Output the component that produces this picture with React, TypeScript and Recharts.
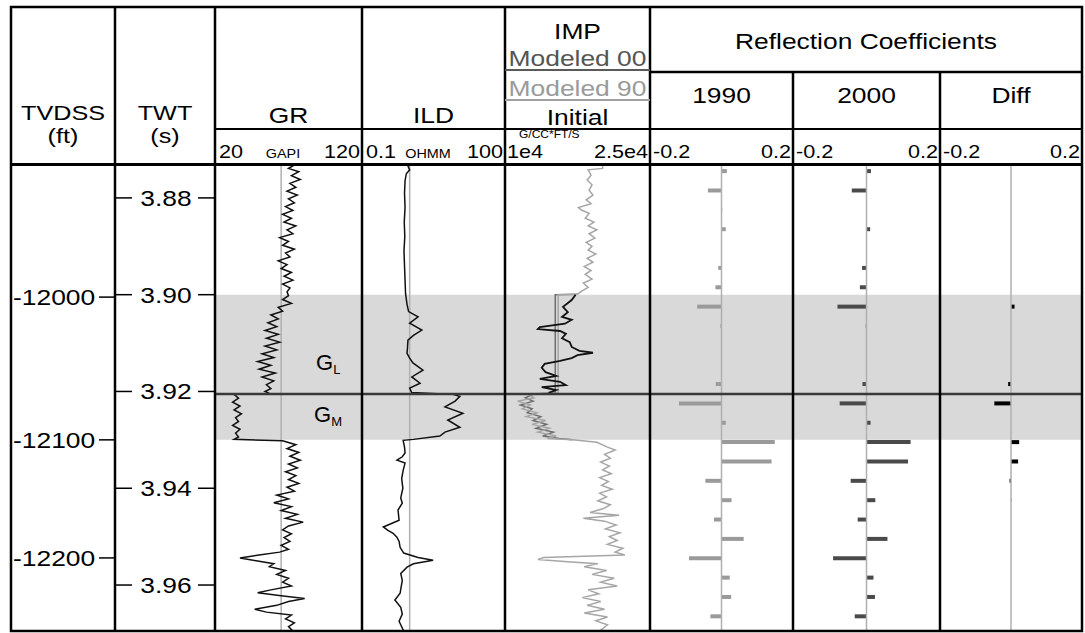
import {
  Bar,
  BarChart,
  Line,
  LineChart,
  ReferenceArea,
  ReferenceLine,
  XAxis,
  YAxis,
} from 'recharts'

// two-way time in ms; the log window and the zone picks
const TWT_DOMAIN: [number, number] = [3873.2, 3969.5]
const ZONE_TOP = 3900
const ZONE_BASE = 3930
const CONTACT = 3920.5

const TWT_TICKS = [3880, 3900, 3920, 3940, 3960]
const DEPTH_TICK_TWT = [3900.5, 3930.0, 3954.4]
const DEPTH_LABELS = ['-12000', '-12100', '-12200']

// [twt ms, GAPI]
const GR: [number, number][] = [
  [3873.2, 74], [3873.9, 70], [3874.6, 77], [3875.4, 72], [3876.2, 78], [3877.0, 71], [3877.8, 75],
  [3878.6, 69], [3879.4, 76], [3880.2, 70], [3881.0, 74], [3881.8, 68], [3882.6, 73], [3883.4, 66],
  [3884.2, 72], [3885.0, 67], [3885.8, 75], [3886.6, 69], [3887.4, 73], [3888.2, 64], [3889.0, 70],
  [3889.8, 66], [3890.6, 74], [3891.4, 68], [3892.2, 71], [3893.0, 63], [3893.8, 69], [3894.6, 65],
  [3895.4, 72], [3896.2, 67], [3897.0, 73], [3897.8, 66], [3898.6, 71], [3899.4, 69],
  [3900.2, 70], [3901.0, 66], [3901.8, 72], [3902.6, 63], [3903.4, 66], [3904.2, 58], [3905.0, 63],
  [3905.8, 56], [3906.6, 62], [3907.4, 54], [3908.2, 63], [3909.0, 55], [3909.8, 64], [3910.6, 54],
  [3911.4, 62], [3912.2, 52], [3913.0, 60], [3913.8, 49], [3914.6, 58], [3915.4, 50], [3916.2, 61],
  [3917.0, 52], [3917.8, 60], [3918.6, 55], [3919.4, 58], [3920.0, 54], [3920.4, 57],
  [3920.6, 33], [3921.4, 36], [3922.2, 32], [3923.0, 37], [3923.8, 33], [3924.6, 38], [3925.4, 34],
  [3926.2, 36], [3927.0, 32], [3927.8, 37], [3928.6, 34], [3929.4, 36], [3929.9, 33],
  [3930.2, 66], [3931.0, 75], [3931.8, 69], [3932.6, 77], [3933.4, 71], [3934.2, 78], [3935.0, 70],
  [3935.8, 76], [3936.6, 68], [3937.4, 75], [3938.2, 70], [3939.0, 77], [3939.8, 69], [3940.6, 74],
  [3941.4, 62], [3942.2, 70], [3943.0, 60], [3943.8, 72], [3944.6, 65], [3945.4, 76], [3946.2, 68],
  [3947.0, 80], [3947.8, 70], [3948.6, 66], [3949.4, 72], [3950.2, 67], [3951.0, 71], [3951.8, 65],
  [3952.6, 70], [3953.2, 64], [3953.8, 50], [3954.4, 37], [3955.0, 48], [3955.6, 60], [3956.2, 57],
  [3957.0, 68], [3957.8, 62], [3958.6, 70], [3959.4, 66], [3960.2, 72], [3961.0, 58], [3961.6, 49],
  [3962.2, 65], [3962.8, 81], [3963.4, 70], [3964.2, 62], [3965.0, 47], [3965.6, 55], [3966.2, 72],
  [3967.0, 68], [3967.8, 74], [3968.6, 70], [3969.5, 73],
]

// [twt ms, ohmm]
const ILD: [number, number][] = [
  [3873.2, 0.9], [3874.2, 1.0], [3875.0, 0.85], [3876.5, 0.8], [3879.0, 0.78], [3882.0, 0.8],
  [3885.0, 0.77], [3888.0, 0.79], [3891.0, 0.76], [3894.0, 0.78], [3897.0, 0.8], [3899.8, 0.82],
  [3902.0, 0.88], [3903.5, 0.95], [3904.6, 1.5], [3905.9, 1.0], [3907.3, 1.8], [3908.4, 1.2],
  [3909.4, 0.92], [3911.0, 0.9], [3912.1, 0.88], [3913.1, 1.0], [3914.1, 1.17], [3915.6, 1.9],
  [3917.0, 1.11], [3918.3, 1.65], [3919.3, 1.0], [3920.2, 1.1], [3920.6, 8], [3921.0, 11.3],
  [3922.0, 9], [3923.2, 5.5], [3924.5, 13.1], [3925.9, 6.3], [3927.4, 11.3], [3928.4, 5.5],
  [3929.2, 4.3], [3929.9, 1.2], [3930.1, 0.73], [3931.5, 0.78], [3932.7, 0.8], [3933.5, 0.7],
  [3934.2, 0.54], [3934.8, 0.8], [3936.3, 0.73], [3938.0, 0.68], [3940.0, 0.72], [3942.0, 0.65],
  [3943.1, 0.7], [3944.5, 0.57], [3946.6, 0.6], [3948.0, 0.28], [3948.7, 0.35], [3949.3, 0.45],
  [3950.1, 0.54], [3951.0, 0.6], [3952.2, 0.63], [3953.4, 0.75], [3954.3, 1.5], [3954.9, 3.1],
  [3955.6, 1.2], [3956.3, 0.88], [3957.6, 0.65], [3959.0, 0.7], [3961.7, 0.63], [3963.1, 0.49],
  [3964.6, 0.65], [3966.0, 0.7], [3967.5, 0.6], [3969.5, 0.75],
]

// impedance, g/cc*ft/s
const IMP_MOD90: [number, number][] = [
  [3873.2, 20100], [3873.9, 20100], [3874.2, 18600], [3875.3, 18900], [3876.3, 18500], [3877.3, 19000],
  [3878.4, 18700], [3879.4, 19100], [3880.4, 18400], [3881.2, 18900], [3882.0, 17600], [3882.5, 17900],
  [3883.2, 18700], [3884.2, 18300], [3885.0, 19200], [3885.8, 18600], [3886.6, 19500], [3887.4, 18700],
  [3888.3, 19300], [3889.2, 18400], [3890.0, 19000], [3890.8, 18600], [3891.6, 19400], [3892.5, 18500],
  [3893.3, 19100], [3894.2, 18200], [3895.0, 18900], [3895.8, 18300], [3896.8, 19000], [3897.6, 18100],
  [3898.5, 18600], [3899.3, 17900], [3899.9, 17500], [3900.0, 15500], [3920.3, 15500],
  [3920.5, 12400], [3921.3, 13000], [3922.0, 11300], [3922.8, 12600], [3923.6, 11800], [3924.4, 13300],
  [3925.2, 12200], [3926.0, 14200], [3926.8, 12800], [3927.6, 14600], [3928.4, 13400], [3929.2, 15300],
  [3929.7, 14400], [3930.0, 17000], [3930.5, 19500], [3931.5, 20600], [3932.1, 21400], [3933.0, 20300],
  [3933.8, 20900], [3934.6, 19900], [3935.4, 20800], [3936.2, 20100], [3937.0, 21000], [3937.8, 19800],
  [3938.6, 20700], [3939.4, 20000], [3940.2, 21100], [3941.0, 19800], [3941.8, 20500], [3942.6, 19600],
  [3943.4, 20900], [3944.2, 20200], [3945.0, 18800], [3945.6, 21800], [3946.2, 18100], [3946.8, 20300],
  [3947.6, 21500], [3948.4, 20400], [3949.2, 21900], [3950.0, 20800], [3950.8, 21600], [3951.6, 20600],
  [3952.4, 22200], [3953.2, 21400], [3953.8, 22400], [3954.3, 14000], [3954.7, 13400], [3955.2, 16500],
  [3955.6, 19600], [3956.2, 18200], [3957.0, 20500], [3957.8, 19000], [3958.6, 21300], [3959.4, 19900],
  [3960.2, 21600], [3961.0, 18600], [3961.8, 19700], [3962.6, 18000], [3963.4, 19900], [3964.2, 18500],
  [3965.0, 20300], [3965.8, 18200], [3966.6, 20600], [3967.4, 19400], [3968.2, 20600], [3969.5, 19800],
]

const IMP_MOD00: [number, number][] = [
  [3899.9, 17500], [3900.0, 15200], [3920.3, 15200], [3920.5, 13000], [3921.3, 12100], [3922.0, 12900],
  [3922.8, 11600], [3923.6, 12800], [3924.4, 12300], [3925.2, 13700], [3926.0, 12900], [3926.8, 14300],
  [3927.6, 13200], [3928.4, 15000], [3929.2, 13900], [3929.7, 15600], [3930.0, 17000],
]

const IMP_INIT: [number, number][] = [
  [3900.0, 17300], [3901.1, 16900], [3902.5, 16000], [3903.6, 16500], [3904.6, 15900], [3905.2, 16900],
  [3906.0, 16200], [3906.7, 13600], [3907.1, 13400], [3907.5, 15700], [3908.1, 16300], [3909.0, 15900],
  [3909.8, 16700], [3910.8, 16900], [3911.6, 17700], [3912.0, 19100], [3912.5, 17500], [3913.1, 16900],
  [3913.7, 15700], [3914.3, 14100], [3915.1, 13800], [3916.0, 14200], [3916.8, 15300], [3917.4, 13600],
  [3918.0, 15700], [3918.7, 16300], [3919.1, 13800], [3919.7, 15300], [3920.3, 14500],
]

// reflection coefficients, 4 ms samples
const RC_TWT = [
  3874.4, 3878.4, 3882.4, 3886.4, 3890.4, 3894.4, 3898.4, 3902.4, 3906.4, 3910.4, 3914.4, 3918.4,
  3922.4, 3926.4, 3930.4, 3934.4, 3938.4, 3942.4, 3946.4, 3950.4, 3954.4, 3958.4, 3962.4, 3966.4,
]
const RC_1990 = [
  0.015, -0.038, 0.002, 0.012, 0, -0.009, -0.017, -0.068, -0.003, 0, 0, -0.016,
  -0.119, 0.012, 0.149, 0.14, -0.045, 0.028, -0.021, 0.062, -0.091, 0.023, 0.027, -0.031,
]
const RC_2000 = [
  0.012, -0.04, 0.001, 0.01, 0, -0.012, -0.018, -0.079, -0.002, 0, 0, -0.011,
  -0.073, 0.011, 0.12, 0.113, -0.043, 0.024, -0.024, 0.057, -0.091, 0.019, 0.023, -0.032,
]
const RC_DIFF = [
  0, 0, 0, 0, 0, 0, 0, 0.01, 0, 0, 0, -0.008,
  -0.047, 0, 0.023, 0.02, -0.004, 0.001, 0, 0, 0, 0, 0, 0,
]

const FONT = '"Liberation Sans", Arial, Helvetica, sans-serif'
const SX = 1.2 // header lettering is set wide
const DATA_TOP = 165
const DATA_H = 466
const X = { tvdss: 11, twt: 115, gr: 215, ild: 362, imp: 505, r90: 650, r00: 793, diff: 940, end: 1082 }

function merge(series: Record<string, [number, number][]>) {
  const rows = new Map<number, Record<string, number>>()
  for (const [key, pts] of Object.entries(series)) {
    for (const [t, v] of pts) {
      const row = rows.get(t) ?? { t }
      row[key] = v
      rows.set(t, row)
    }
  }
  return [...rows.values()].sort((a, b) => a.t - b.t)
}

const GR_ROWS = merge({ gr: GR })
const ILD_ROWS = merge({ ild: ILD })
const IMP_ROWS = merge({ m90: IMP_MOD90, m00: IMP_MOD00, init: IMP_INIT })
const RC_ROWS = RC_TWT.map((t, i) => ({ t, r90: RC_1990[i], r00: RC_2000[i], diff: RC_DIFF[i] }))

function Txt({ x, y, size = 22, anchor = 'middle', fill = '#000', children }: any) {
  return (
    <text
      transform={`translate(${x} ${y}) scale(${SX} 1)`}
      fontSize={size}
      textAnchor={anchor}
      fill={fill}
      fontFamily={FONT}
    >
      {children}
    </text>
  )
}

function zoneMarks(yAxisId: string | number = 0) {
  return [
    <ReferenceArea key="zone" yAxisId={yAxisId} y1={ZONE_TOP} y2={ZONE_BASE} fill="#d9d9d9" fillOpacity={1} stroke="none" />,
  ]
}

function contactLine(yAxisId: string | number = 0) {
  return <ReferenceLine key="contact" yAxisId={yAxisId} y={CONTACT} stroke="#3a3a3a" strokeWidth={2.5} />
}

function TwtTick(props: any) {
  const { y, payload } = props
  if (!Number.isFinite(y)) return null
  return (
    <g>
      <line x1={104} x2={121} y1={y} y2={y} stroke="#000" strokeWidth={1.5} />
      <Txt x={155} y={y + 8}>{(payload.value / 1000).toFixed(2)}</Txt>
      <line x1={187} x2={204} y1={y} y2={y} stroke="#000" strokeWidth={1.5} />
    </g>
  )
}

function DepthTick(props: any) {
  const { y, payload } = props
  if (!Number.isFinite(y)) return null
  const label = DEPTH_LABELS[DEPTH_TICK_TWT.indexOf(payload.value)]
  return (
    <g>
      <Txt x={2} y={y + 8} anchor="start">{label}</Txt>
      <line x1={88} x2={104} y1={y} y2={y} stroke="#000" strokeWidth={1.5} />
    </g>
  )
}

const M0 = { top: 0, right: 0, bottom: 0, left: 0 }

function GrTrack() {
  const w = X.ild - X.tvdss
  return (
    <div style={{ position: 'absolute', left: X.tvdss, top: DATA_TOP }}>
      <LineChart layout="vertical" width={w} height={DATA_H} data={GR_ROWS} margin={M0}>
        <XAxis type="number" domain={[20, 120]} hide allowDataOverflow />
        <YAxis
          yAxisId="twt"
          type="number"
          dataKey="t"
          domain={TWT_DOMAIN}
          allowDataOverflow
          ticks={TWT_TICKS}
          interval={0}
          width={100}
          axisLine={false}
          tickLine={false}
          tick={TwtTick}
        />
        <YAxis
          yAxisId="depth"
          type="number"
          dataKey="t"
          domain={TWT_DOMAIN}
          allowDataOverflow
          ticks={DEPTH_TICK_TWT}
          interval={0}
          width={104}
          axisLine={false}
          tickLine={false}
          tick={DepthTick}
        />
        <YAxis yAxisId="data" type="number" dataKey="t" domain={TWT_DOMAIN} hide allowDataOverflow />
        {zoneMarks('data')}
        <ReferenceLine yAxisId="data" x={65} stroke="#b0b0b0" strokeWidth={1.5} />
        <Line
          yAxisId="data"
          dataKey="gr"
          type="linear"
          stroke="#111"
          strokeWidth={1.5}
          dot={false}
          activeDot={false}
          connectNulls
          isAnimationActive={false}
        />
        {contactLine('data')}
      </LineChart>
    </div>
  )
}

function CurveTrack({ left, right, domain, scale, refX, rows, curves }: any) {
  return (
    <div style={{ position: 'absolute', left, top: DATA_TOP }}>
      <LineChart layout="vertical" width={right - left} height={DATA_H} data={rows} margin={M0}>
        <XAxis type="number" domain={domain} scale={scale} hide allowDataOverflow />
        <YAxis type="number" dataKey="t" domain={TWT_DOMAIN} hide allowDataOverflow />
        {zoneMarks()}
        {refX !== undefined && <ReferenceLine x={refX} stroke="#b0b0b0" strokeWidth={1.5} />}
        {curves.map((c: any) => (
          <Line
            key={c.key}
            dataKey={c.key}
            type="linear"
            stroke={c.color}
            strokeWidth={c.width ?? 1.5}
            dot={false}
            activeDot={false}
            connectNulls
            isAnimationActive={false}
          />
        ))}
        {contactLine()}
      </LineChart>
    </div>
  )
}

function RcTrack({ left, right, dataKey, color }: any) {
  return (
    <div style={{ position: 'absolute', left, top: DATA_TOP }}>
      <BarChart layout="vertical" width={right - left} height={DATA_H} data={RC_ROWS} margin={M0}>
        <XAxis type="number" domain={[-0.2, 0.2]} hide allowDataOverflow />
        <YAxis type="number" dataKey="t" domain={TWT_DOMAIN} hide allowDataOverflow />
        {zoneMarks()}
        <ReferenceLine x={0} stroke="#b0b0b0" strokeWidth={1.5} />
        <Bar dataKey={dataKey} fill={color} barSize={4} isAnimationActive={false} />
        {contactLine()}
      </BarChart>
    </div>
  )
}

function Header() {
  const mid = (a: number, b: number) => (a + b) / 2
  return (
    <svg
      width={1085}
      height={633}
      style={{ position: 'absolute', left: 0, top: 0, pointerEvents: 'none' }}
    >
      <g stroke="#000" strokeWidth={2.5} fill="none">
        <rect x={X.tvdss} y={7} width={X.end - X.tvdss} height={624} />
        <line x1={X.tvdss} x2={X.end} y1={164.5} y2={164.5} strokeWidth={3} />
        {[X.twt, X.gr, X.ild, X.imp, X.r90].map((x) => (
          <line key={x} x1={x} x2={x} y1={7} y2={631} />
        ))}
        {[X.r00, X.diff].map((x) => (
          <line key={x} x1={x} x2={x} y1={72} y2={631} />
        ))}
        <line x1={X.r90} x2={X.end} y1={72} y2={72} />
        <line x1={X.gr} x2={X.end} y1={129} y2={129} strokeWidth={2} />
        <line x1={X.imp} x2={X.r90} y1={70} y2={70} stroke="#5a5a5a" strokeWidth={2} />
        <line x1={X.imp} x2={X.r90} y1={100} y2={100} stroke="#a0a0a0" strokeWidth={2} />
      </g>

      <Txt x={mid(X.tvdss, X.twt)} y={120} size={21}>TVDSS</Txt>
      <Txt x={mid(X.tvdss, X.twt)} y={143} size={21}>(ft)</Txt>
      <Txt x={mid(X.twt, X.gr)} y={120} size={21}>TWT</Txt>
      <Txt x={mid(X.twt, X.gr)} y={143} size={21}>(s)</Txt>

      <Txt x={mid(X.gr, X.ild)} y={123}>GR</Txt>
      <Txt x={X.gr + 4} y={158} size={18} anchor="start">20</Txt>
      <Txt x={283} y={158} size={12}>GAPI</Txt>
      <Txt x={X.ild - 2} y={158} size={18} anchor="end">120</Txt>

      <Txt x={mid(X.ild, X.imp)} y={123}>ILD</Txt>
      <Txt x={X.ild + 4} y={158} size={18} anchor="start">0.1</Txt>
      <Txt x={428} y={158} size={12}>OHMM</Txt>
      <Txt x={X.imp - 2} y={158} size={18} anchor="end">100</Txt>

      <Txt x={mid(X.imp, X.r90)} y={39}>IMP</Txt>
      <Txt x={mid(X.imp, X.r90)} y={66} fill="#555">Modeled 00</Txt>
      <Txt x={mid(X.imp, X.r90)} y={96} fill="#9a9a9a">Modeled 90</Txt>
      <Txt x={mid(X.imp, X.r90)} y={125}>Initial</Txt>
      <Txt x={519} y={138} size={10} anchor="start">G/CC*FT/S</Txt>
      <Txt x={X.imp + 2} y={158} size={18} anchor="start">1e4</Txt>
      <Txt x={X.r90 - 2} y={158} size={18} anchor="end">2.5e4</Txt>

      <Txt x={mid(X.r90, X.end)} y={49}>Reflection Coefficients</Txt>
      {[
        [X.r90, X.r00, '1990'],
        [X.r00, X.diff, '2000'],
        [X.diff, X.end, 'Diff'],
      ].map(([a, b, name]) => (
        <g key={name as string}>
          <Txt x={mid(a as number, b as number)} y={103}>{name}</Txt>
          <Txt x={(a as number) + 3} y={158} size={18} anchor="start">-0.2</Txt>
          <Txt x={(b as number) - 2} y={158} size={18} anchor="end">0.2</Txt>
        </g>
      ))}

      <text x={316} y={370} fontSize={22} fontFamily={FONT} fill="#000">
        G<tspan fontSize={13} dy={4}>L</tspan>
      </text>
      <text x={314} y={422} fontSize={22} fontFamily={FONT} fill="#000">
        G<tspan fontSize={13} dy={4}>M</tspan>
      </text>
    </svg>
  )
}

export default function App() {
  return (
    <div
      style={{
        position: 'absolute',
        left: 0,
        top: 0,
        width: 1085,
        height: 633,
        background: '#fff',
        fontFamily: FONT,
      }}
    >
      <GrTrack />
      <CurveTrack
        left={X.ild}
        right={X.imp}
        domain={[0.1, 100]}
        scale="log"
        refX={1}
        rows={ILD_ROWS}
        curves={[{ key: 'ild', color: '#111' }]}
      />
      <CurveTrack
        left={X.imp}
        right={X.r90}
        domain={[10000, 25000]}
        scale="linear"
        rows={IMP_ROWS}
        curves={[
          { key: 'm00', color: '#6e6e6e' },
          { key: 'm90', color: '#a6a6a6' },
          { key: 'init', color: '#111', width: 1.8 },
        ]}
      />
      <RcTrack left={X.r90} right={X.r00} dataKey="r90" color="#9a9a9a" />
      <RcTrack left={X.r00} right={X.diff} dataKey="r00" color="#4a4a4a" />
      <RcTrack left={X.diff} right={X.end} dataKey="diff" color="#000" />
      <Header />
    </div>
  )
}
